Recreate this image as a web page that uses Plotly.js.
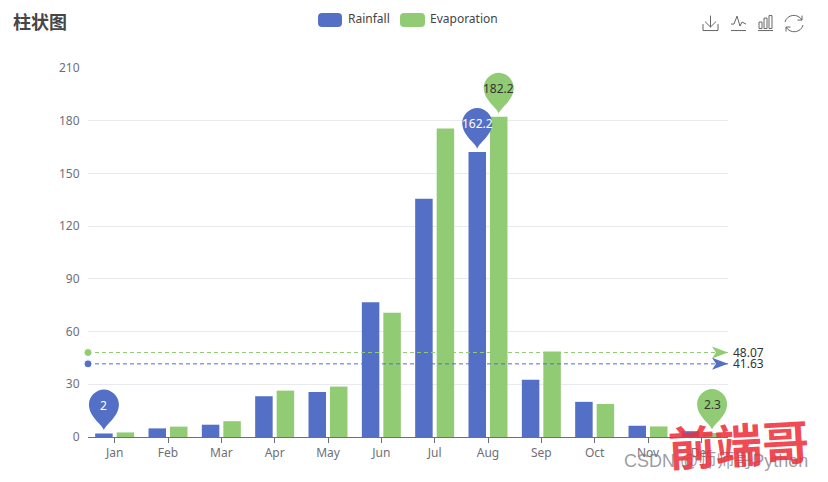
<!DOCTYPE html>
<html><head><meta charset="utf-8">
<script src="https://cdn.plot.ly/plotly-3.0.1.min.js"></script>
<style>html,body{margin:0;padding:0;background:#fff}#c{width:828px;height:482px}</style>
</head><body><div id="c"></div>
<script>
const months = ['Jan','Feb','Mar','Apr','May','Jun','Jul','Aug','Sep','Oct','Nov','Dec'];
const rainfall = [2.0,4.9,7.0,23.2,25.6,76.7,135.6,162.2,32.6,20.0,6.4,3.3];
const evaporation = [2.6,5.9,9.0,26.4,28.7,70.7,175.6,182.2,48.7,18.8,6.0,2.3];
const rainMean = 41.63, evapMean = 48.07;
const yTicks = [0,30,60,90,120,150,180,210];
const titleText = '柱状图';
const BLUE='#5470c6', GREEN='#91cc75';
const xIdx = months.map((_,i)=>i);
const L=88,R=728,T=68,B=437.5;
const px=x=>(x-L)/(R-L), py=y=>(B-y)/(B-T);
const off=0.2016;
const pin='M 0 3 C -1 9 -15 16 -15 29 C -15 37 -8 44 0 44 C 8 44 15 37 15 29 C 15 16 1 9 0 3 Z';
function pinShape(i,val,color,sign){return {type:'path',layer:'above',xref:'x',yref:'y',xsizemode:'pixel',ysizemode:'pixel',xanchor:i+sign*off,yanchor:val,path:pin,fillcolor:color,line:{width:0}};}
function pinLabel(i,val,txt,color,sign){return {xref:'x',yref:'y',x:i+sign*off,y:val,text:txt,showarrow:false,yshift:28,font:{size:12,color:color,family:'Noto Sans, sans-serif'}};}
function meanMark(v,color){return {type:'path',layer:'above',xref:'x',yref:'y',xsizemode:'pixel',ysizemode:'pixel',xanchor:11.5,yanchor:v,path:'M 0 0 L -16 6 L -12 0 L -16 -6 Z',fillcolor:color,line:{width:0}};}
function rectP(x0,y0,x1,y1,r){const X=x=>px(x),Y=y=>py(y);
 return `M ${X(x0+r)} ${Y(y0)} L ${X(x1-r)} ${Y(y0)} Q ${X(x1)} ${Y(y0)} ${X(x1)} ${Y(y0+r)} L ${X(x1)} ${Y(y1-r)} Q ${X(x1)} ${Y(y1)} ${X(x1-r)} ${Y(y1)} L ${X(x0+r)} ${Y(y1)} Q ${X(x0)} ${Y(y1)} ${X(x0)} ${Y(y1-r)} L ${X(x0)} ${Y(y0+r)} Q ${X(x0)} ${Y(y0)} ${X(x0+r)} ${Y(y0)} Z`;}
function polyP(list){return list.map(pts=>pts.map((p,i)=>(i?'L ':'M ')+px(p[0])+' '+py(p[1])).join(' ')).join(' ');}
const iconLine={color:'#666',width:1};
function icon(path){return {type:'path',xref:'paper',yref:'paper',path:path,line:iconLine,fillcolor:'rgba(0,0,0,0)',layer:'above'};}
const shapes=[
 pinShape(0,rainfall[0],BLUE,-1),
 pinShape(7,rainfall[7],BLUE,-1),
 pinShape(7,evaporation[7],GREEN,1),
 pinShape(11,evaporation[11],GREEN,1),
 meanMark(rainMean,BLUE),meanMark(evapMean,GREEN),
 {type:'path',xref:'paper',yref:'paper',path:rectP(318,13,342,27,4),fillcolor:BLUE,line:{width:0},layer:'above'},
 {type:'path',xref:'paper',yref:'paper',path:rectP(400,13,425,27,4),fillcolor:GREEN,line:{width:0},layer:'above'},
 icon(polyP([[[703,24],[703,30.5],[718,30.5],[718,24]],[[710.5,15.5],[710.5,27]],[[705,21.5],[710.5,27],[716,21.5]]])),
 icon(polyP([[[731,30.5],[746,30.5]],[[731,24],[734,24],[737,16],[740,26],[742,22],[746,24]]])),
 icon(polyP([[[758,30.5],[773,30.5]],[[759,28.5],[759,22],[762,22],[762,28.5],[759,28.5]],[[764,28.5],[764,18],[767,18],[767,28.5],[764,28.5]],[[769,28.5],[769,15.5],[772,15.5],[772,28.5],[769,28.5]]])),
 icon(`M ${px(785)} ${py(22)} C ${px(787)} ${py(14)} ${px(798)} ${py(13)} ${px(802)} ${py(20)} M ${px(802)} ${py(15.5)} L ${px(802)} ${py(20)} L ${px(797.5)} ${py(20)} M ${px(803)} ${py(25)} C ${px(801)} ${py(33)} ${px(790)} ${py(34)} ${px(786)} ${py(27)} M ${px(786)} ${py(31.5)} L ${px(786)} ${py(27)} L ${px(790.5)} ${py(27)}`)
];
const F='Noto Sans, sans-serif';
const pa=(x,y,text,size,color,anchor,extra)=>Object.assign({xref:'paper',yref:'paper',x:px(x),y:py(y),text,showarrow:false,xanchor:anchor||'left',yanchor:'middle',font:{size,color,family:F}},extra||{});
const annotations=[
 pinLabel(0,rainfall[0],'2','#fff',-1),
 pinLabel(7,rainfall[7],'162.2','#fff',-1),
 pinLabel(7,evaporation[7],'182.2','#333',1),
 pinLabel(11,evaporation[11],'2.3','#333',1),
 {xref:'paper',yref:'y',x:1,y:evapMean,xshift:3,xanchor:'left',text:evapMean.toFixed(2),showarrow:false,font:{size:12,color:'#333',family:F}},
 {xref:'paper',yref:'y',x:1,y:rainMean,xshift:3,xanchor:'left',text:rainMean.toFixed(2),showarrow:false,font:{size:12,color:'#333',family:F}},
 pa(10.5,21,'<b>'+titleText+'</b>',18,'#464646','left',{font:{size:18,color:'#464646',family:'Noto Sans CJK SC'}}),
 pa(346,18.5,'Rainfall',12,'#444'),
 pa(428,18.5,'Evaporation',12,'#444'),
 pa(622,462,'CSDN @师师哥Python',18,'#999','left',{font:{size:18,color:'rgba(125,125,125,0.75)',family:'Liberation Sans, Noto Sans CJK SC'}}),
 pa(738,443,'<b>前端哥</b>',47,'#f0323c','center',{textangle:-3,font:{size:47,color:'rgba(238,50,60,0.88)',family:'Noto Sans CJK SC'}})
];
const data=[
 {type:'bar',name:'Rainfall',x:xIdx,y:rainfall,marker:{color:BLUE},hoverinfo:'none'},
 {type:'bar',name:'Evaporation',x:xIdx,y:evaporation,marker:{color:GREEN},hoverinfo:'none'},
 {type:'scatter',mode:'lines+markers',cliponaxis:false,x:[-0.5,11.5],y:[rainMean,rainMean],marker:{size:[8,0],color:BLUE,opacity:1},line:{color:BLUE,width:1,dash:'4px,3px'},hoverinfo:'none',showlegend:false},
 {type:'scatter',mode:'lines+markers',cliponaxis:false,x:[-0.5,11.5],y:[evapMean,evapMean],marker:{size:[8,0],color:GREEN,opacity:1},line:{color:GREEN,width:1,dash:'4px,3px'},hoverinfo:'none',showlegend:false}
];
const layout={width:828,height:482,margin:{l:L,r:828-R,t:T,b:482-B,pad:0},paper_bgcolor:'#fff',plot_bgcolor:'#fff',showlegend:false,
 barmode:'group',bargap:0.194,bargroupgap:0.186,
 font:{family:F,size:12,color:'#6e7079'},
 xaxis:{range:[-0.5,11.5],tickmode:'array',tickvals:xIdx,ticktext:months,showgrid:false,zeroline:false,showline:true,linecolor:'#6e7079',linewidth:1,ticks:'outside',ticklen:5,tickcolor:'#6e7079',tickfont:{size:12,color:'#6e7079'},fixedrange:true},
 yaxis:{range:[0,210],tickmode:'array',tickvals:yTicks,showgrid:true,gridcolor:'#e8eaf0',gridwidth:1,zeroline:false,showline:false,ticks:'outside',ticklen:5,tickcolor:'rgba(0,0,0,0)',tickfont:{size:12,color:'#6e7079'},fixedrange:true},
 shapes,annotations};
Plotly.newPlot('c',data,layout,{displayModeBar:false,staticPlot:true});
</script></body></html>
